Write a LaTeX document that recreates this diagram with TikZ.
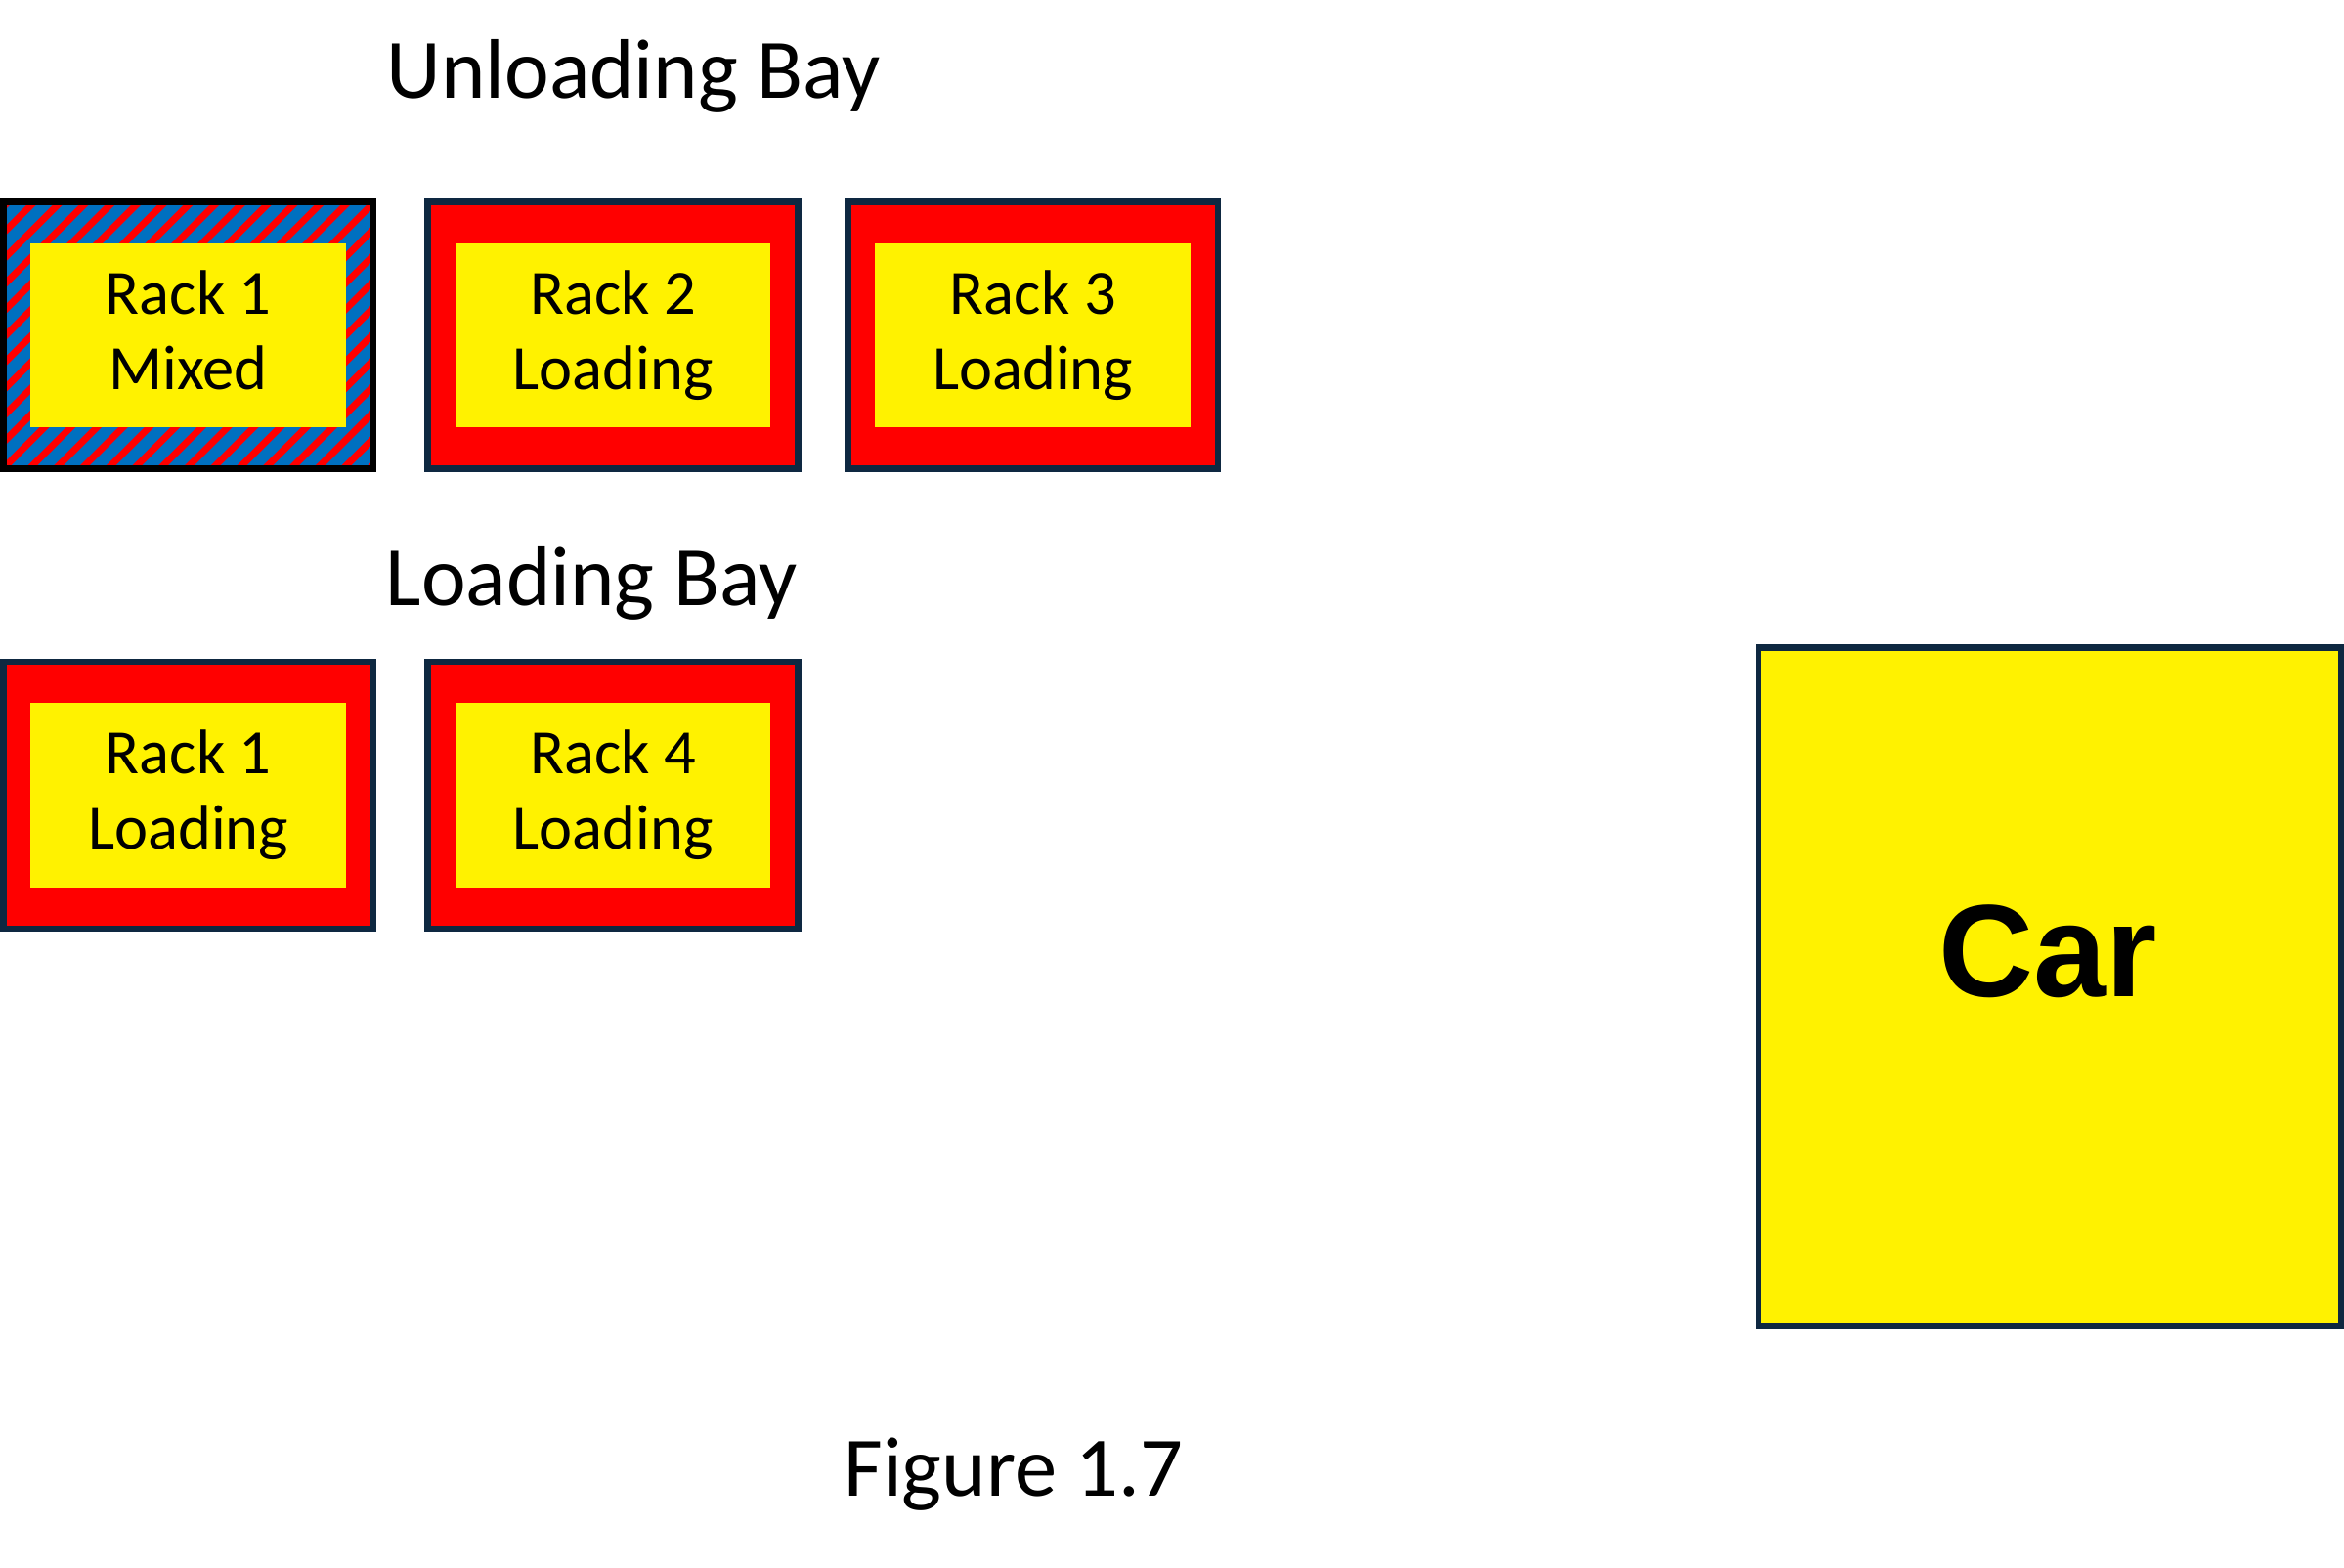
\documentclass[tikz,border=0pt]{standalone}
\usepackage{fontspec}
\setmainfont{Carlito}
\newfontfamily\carfont{Liberation Sans}
\definecolor{rackline}{HTML}{0E2841}
\definecolor{mixblue}{HTML}{0070C0}
\tikzset{
  rack/.style={rectangle, draw=rackline, line width=1.2pt, fill=red, minimum width=2.477cm, minimum height=1.784cm, inner sep=0pt},
  mixed/.style={rack, draw=black, fill=mixblue, path picture={
      \foreach \s in {-2.1,-1.925,...,2.7}
        \draw[red, line width=1.3pt] ([xshift=\s cm]path picture bounding box.south west) -- ++(2.2,2.2);}},
  slot/.style={rectangle, fill=yellow, minimum width=2.11cm, minimum height=1.235cm, inner sep=0pt, align=center, font=\fontsize{12}{14.3}\selectfont, execute at end node={\vphantom{g}}},
  bay/.style={inner sep=0pt, font=\fontsize{16.1}{19.3}\selectfont},
}
\begin{document}
\begin{tikzpicture}
  \useasboundingbox (0,0) rectangle (15.68,-10.488);
  % Headers
  \node (unload) [bay, anchor=base west] at (2.58,-0.658) {Unloading Bay};
  \node (load) [bay, anchor=base west] at (2.575,-4.05) {Loading Bay};
  % Unloading bay racks
  \node (U-R1) [mixed] at (1.26,-2.2425) {};
  \node (U-R2) [rack] at (4.10,-2.2425) {};
  \node (U-R3) [rack] at (6.91,-2.2425) {};
  \node (U-R1-in) [slot] at (U-R1) {Rack 1\\Mixed};
  \node (U-R2-in) [slot] at (U-R2) {Rack 2\\Loading};
  \node (U-R3-in) [slot] at (U-R3) {Rack 3\\Loading};
  % Loading bay racks
  \node (L-R1) [rack] at (1.26,-5.3185) {};
  \node (L-R4) [rack] at (4.10,-5.3185) {};
  \node (L-R1-in) [slot] at (L-R1) {Rack 1\\Loading};
  \node (L-R4-in) [slot] at (L-R4) {Rack 4\\Loading};
  % Car
  \node (CAR) [rectangle, draw=rackline, line width=1.2pt, fill=yellow, minimum width=3.897cm, minimum height=4.537cm] at (13.71,-6.60) {};
  \node (CAR-text) [font=\carfont\bfseries\fontsize{25}{30}\selectfont, inner sep=0pt, anchor=base] at (13.70,-6.665) {Car};
  % Footer
  \node (caption) [bay, anchor=base] at (6.78,-10.005) {Figure 1.7};
\end{tikzpicture}
\end{document}
